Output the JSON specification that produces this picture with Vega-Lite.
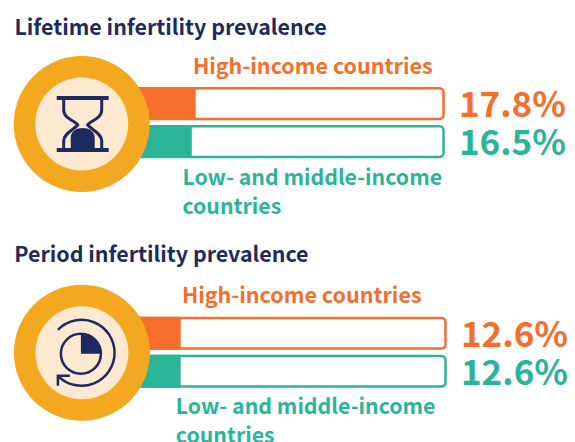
{
"$schema":"https://vega.github.io/schema/vega-lite/v6.json",
"padding":0,"spacing":0,"background":"white",
"config":{"view":{"stroke":null},"axis":{"disable":true},"legend":{"disable":true},
"text":{"font":"Noto Sans CJK SC","fontWeight":"bold"},
"scale":{"bandPaddingInner":0,"bandPaddingOuter":0}},
"vconcat":[
{"width":575,"height":221,
"data":{"values":[{"group":"High-income countries","value":17.8,"pct":"17.8%"},{"group":"Low- and middle-income countries","value":16.5,"pct":"16.5%"}]},
"encoding":{
"y":{"field":"group","type":"nominal","scale":{"domain":["title","highLabel","High-income countries","Low- and middle-income countries","lowLabel","extra"],"range":[8.6,236.6]}},
"color":{"field":"group","type":"nominal","scale":{"domain":["High-income countries","Low- and middle-income countries"],"range":["#F76D2B","#2BB598"]}}
},
"layer":[
{"mark":{"type":"bar","height":30.6,"fill":"white","strokeWidth":2.5,"cornerRadius":4},
"encoding":{"x":{"datum":100,"type":"quantitative","scale":{"domain":[-47.1,143.6],"nice":false,"zero":false}},"x2":{"datum":-20},"color":{"value":null},"stroke":{"field":"group","type":"nominal","scale":{"domain":["High-income countries","Low- and middle-income countries"],"range":["#F76D2B","#2BB598"]}}}},
{"mark":{"type":"bar","height":33},"encoding":{"x":{"field":"value","type":"quantitative"},"x2":{"datum":-20}}},
{"mark":{"type":"text","align":"left","fontSize":35,"dy":2},"encoding":{"x":{"datum":105.1,"type":"quantitative"},"text":{"field":"pct"}}},
{"data":{"values":[{"t":"Lifetime infertility prevalence"}]},"mark":{"type":"text","align":"left","fontSize":21.4,"dy":1},"encoding":{"x":{"datum":-42.3,"type":"quantitative"},"y":{"datum":"title"},"color":{"value":"#1E2A5E"},"text":{"field":"t"}}},
{"data":{"values":[{"t":"High-income countries"}]},"mark":{"type":"text","align":"left","fontSize":21.5,"dy":2},"encoding":{"x":{"datum":16.9,"type":"quantitative"},"y":{"datum":"highLabel"},"color":{"value":"#F76D2B"},"text":{"field":"t"}}},
{"data":{"values":[{"t":"Low- and middle-income\ncountries"}]},"mark":{"type":"text","align":"left","baseline":"top","fontSize":21.3,"lineBreak":"\n","lineHeight":29,"dy":-12},"encoding":{"x":{"datum":13.4,"type":"quantitative"},"y":{"datum":"lowLabel"},"color":{"value":"#2BB598"},"text":{"field":"t"}}},
{"data":{"values":[{"part":"ring"}]},"mark":{"type":"point","shape":"circle","filled":true,"opacity":1,"size":18496,"yOffset":20.4},"encoding":{"x":{"datum":-20,"type":"quantitative"},"y":{"datum":"High-income countries"},"color":{"value":"#F4A820"}}},
{"data":{"values":[{"part":"disc"}]},"mark":{"type":"point","shape":"circle","filled":true,"opacity":1,"size":8649,"yOffset":20.4},"encoding":{"x":{"datum":-20,"type":"quantitative"},"y":{"datum":"High-income countries"},"color":{"value":"#FDE9D0"}}},
{"data":{"values":[{"part":"hourglass sides"}]},"mark":{"type":"point","filled":false,"opacity":1,"strokeWidth":3,"size":4,"yOffset":20.4,"xOffset":1,"shape":"M-19,-26 V-14 C-19,-5 -7,-3 -5,1 C-9,6 -19,9 -19,17 V24 M19,-26 V-14 C19,-5 7,-3 5,1 C9,6 19,9 19,17 V24"},"encoding":{"x":{"datum":-20,"type":"quantitative"},"y":{"datum":"High-income countries"},"color":{"value":"#1E2A5E"}}},
{"data":{"values":[{"part":"hourglass solid"}]},"mark":{"type":"point","filled":true,"opacity":1,"size":4,"yOffset":20.4,"xOffset":1,"shape":"M-26,-28 H26 V-24 H-26 Z M-26,24 H26 V28 H-26 Z M-12,24 V14 C-12,7 -6,4 0,4 C6,4 12,7 12,14 V24 Z"},"encoding":{"x":{"datum":-20,"type":"quantitative"},"y":{"datum":"High-income countries"},"color":{"value":"#1E2A5E"}}}
]},
{"width":575,"height":221,
"data":{"values":[{"group":"High-income countries","value":12.6,"pct":"12.6%"},{"group":"Low- and middle-income countries","value":12.6,"pct":"12.6%"}]},
"encoding":{
"y":{"field":"group","type":"nominal","scale":{"domain":["title","highLabel","High-income countries","Low- and middle-income countries","lowLabel","extra"],"range":[17.3,245.3]}},
"color":{"field":"group","type":"nominal","scale":{"domain":["High-income countries","Low- and middle-income countries"],"range":["#F76D2B","#2BB598"]}}
},
"layer":[
{"mark":{"type":"bar","height":30.6,"fill":"white","strokeWidth":2.5,"cornerRadius":4},
"encoding":{"x":{"datum":100,"type":"quantitative","scale":{"domain":[-47.03,142.74],"nice":false,"zero":false}},"x2":{"datum":-20},"color":{"value":null},"stroke":{"field":"group","type":"nominal","scale":{"domain":["High-income countries","Low- and middle-income countries"],"range":["#F76D2B","#2BB598"]}}}},
{"mark":{"type":"bar","height":33},"encoding":{"x":{"field":"value","type":"quantitative"},"x2":{"datum":-20}}},
{"mark":{"type":"text","align":"left","fontSize":35,"dy":3},"encoding":{"x":{"datum":105.1,"type":"quantitative"},"text":{"field":"pct"}}},
{"data":{"values":[{"t":"Period infertility prevalence"}]},"mark":{"type":"text","align":"left","fontSize":21.4,"dy":-1},"encoding":{"x":{"datum":-42.3,"type":"quantitative"},"y":{"datum":"title"},"color":{"value":"#1E2A5E"},"text":{"field":"t"}}},
{"data":{"values":[{"t":"High-income countries"}]},"mark":{"type":"text","align":"left","fontSize":21.5,"dy":2},"encoding":{"x":{"datum":13,"type":"quantitative"},"y":{"datum":"highLabel"},"color":{"value":"#F76D2B"},"text":{"field":"t"}}},
{"data":{"values":[{"t":"Low- and middle-income\ncountries"}]},"mark":{"type":"text","align":"left","baseline":"top","fontSize":21.3,"lineBreak":"\n","lineHeight":29,"dy":-12},"encoding":{"x":{"datum":11,"type":"quantitative"},"y":{"datum":"lowLabel"},"color":{"value":"#2BB598"},"text":{"field":"t"}}},
{"data":{"values":[{"part":"ring"}]},"mark":{"type":"point","shape":"circle","filled":true,"opacity":1,"size":18496,"yOffset":19.5},"encoding":{"x":{"datum":-20,"type":"quantitative"},"y":{"datum":"High-income countries"},"color":{"value":"#F4A820"}}},
{"data":{"values":[{"part":"disc"}]},"mark":{"type":"point","shape":"circle","filled":true,"opacity":1,"size":8649,"yOffset":19.5},"encoding":{"x":{"datum":-20,"type":"quantitative"},"y":{"datum":"High-income countries"},"color":{"value":"#FDE9D0"}}},
{"data":{"values":[{"part":"cycle arrow and clock face"}]},"mark":{"type":"point","filled":false,"opacity":1,"strokeWidth":2.5,"size":4,"yOffset":19.5,"shape":"M-24,-23 A33,33 0 1 1 -24,23 M-24,33 V23 H-12 M-21,1 A20,20 0 1 1 19,1 A20,20 0 1 1 -21,1"},"encoding":{"x":{"datum":-20,"type":"quantitative"},"y":{"datum":"High-income countries"},"color":{"value":"#1E2A5E"}}},
{"data":{"values":[{"part":"quarter"}]},"mark":{"type":"point","filled":true,"opacity":1,"size":4,"yOffset":19.5,"shape":"M-1,1 V-19 A20,20 0 0 1 19,1 Z"},"encoding":{"x":{"datum":-20,"type":"quantitative"},"y":{"datum":"High-income countries"},"color":{"value":"#1E2A5E"}}}
]}
]}
